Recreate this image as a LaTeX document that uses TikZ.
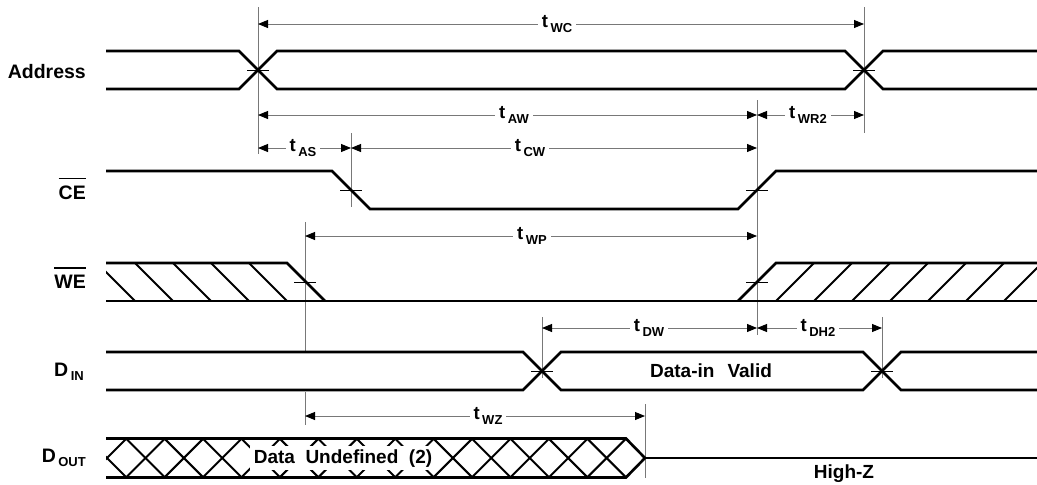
\documentclass[tikz,border=0pt]{standalone}
\usepackage{fontspec}
\setmainfont{Liberation Sans}
\usetikzlibrary{arrows.meta}
\definecolor{refgray}{RGB}{120,120,120}

% name with a lowered index, as D_IN or t_WC
\newcommand{\lowidx}[2]{#1\kern2.5pt\raisebox{-4.5pt}{\fontsize{13}{13}\selectfont #2}}
% active-low name with a bar over it
\newcommand{\barname}[1]{\setbox0\hbox{#1}\rlap{\rule[\dimexpr\ht0+6pt\relax]{\wd0}{1.1pt}}\box0}

\begin{document}
\begin{tikzpicture}[x=1pt,y=-1pt]
  \tikzset{sig/.style={line width=2.6pt,line join=miter},
    hatch/.style={line width=2pt},
    refline/.style={refgray,line width=0.9pt},
    crossmark/.style={line width=0.8pt},
    dimarrow/.style={refgray,line width=0.9pt,>={Triangle[length=10pt,width=8pt,black]},<->},
    tlab/.style={fill=white,inner xsep=4pt,inner ysep=1pt,font=\fontsize{18.5}{20}\selectfont\bfseries},
    siglab/.style={anchor=base east,inner sep=0pt,font=\fontsize{19.5}{21}\selectfont\bfseries},
    txt/.style={anchor=base,inner sep=0pt,font=\fontsize{19}{21}\selectfont\bfseries}}
  \useasboundingbox (0,0) rectangle (1037,485);

  % signal names
  \node[siglab] (addr) at (86,78) {Address};
  \node[siglab] (ce) at (86,199) {\barname{CE}};
  \node[siglab] (we) at (86,288) {\barname{WE}};
  \node[siglab] (din) at (84,376) {\lowidx{D}{IN}};
  \node[siglab] (dout) at (86,462) {\lowidx{D}{OUT}};

  % reference lines
  \draw[refline] (258,7) -- (258,154);
  \draw[refline] (864,7) -- (864,133);
  \draw[refline] (351,133) -- (351,207);
  \draw[refline] (757,100) -- (757,335);
  \draw[refline] (305,222) -- (305,352) (305,392) -- (305,425);
  \draw[refline] (542,317) -- (542,378);
  \draw[refline] (882,317) -- (882,378);
  \draw[refline] (645,404) -- (645,478);

  % Address
  \draw[sig] (106,51) -- (239,51) -- (277,89) -- (845,89) -- (883,51) -- (1037,51);
  \draw[sig] (106,89) -- (239,89) -- (277,51) -- (845,51) -- (883,89) -- (1037,89);
  % CE
  \draw[sig] (106,171) -- (332,171) -- (370,209) -- (738,209) -- (776,171) -- (1037,171);
  % WE
  \draw[sig] (106,263) -- (287,263) -- (325,301);
  \draw[sig] (106,301) -- (1037,301);
  \draw[sig] (738,301) -- (776,263) -- (1037,263);
  \begin{scope}
    \clip (106,250) rectangle (1037,320);
    \foreach \x in {97,135,...,249} \draw[hatch] (\x,263) -- ({\x+38},301);
    \foreach \x in {776,814,...,1004} \draw[hatch] (\x,301) -- ({\x+38},263);
  \end{scope}
  % DIN
  \draw[sig] (106,352) -- (523,352) -- (561,390) -- (863,390) -- (901,352) -- (1037,352);
  \draw[sig] (106,390) -- (523,390) -- (561,352) -- (863,352) -- (901,390) -- (1037,390);
  \node[txt] (valid) at (711,377) {Data-in\hspace{13pt}Valid};
  % DOUT
  \begin{scope}
    \clip (106,438.5) -- (626,438.5) -- (645,458) -- (626,477.5) -- (106,477.5) -- cycle;
    \foreach \k in {0,...,14} {
      \pgfmathsetmacro\xc{107+38.43*\k}
      \draw[hatch] ({\xc-19.5},438.5) -- ({\xc+19.5},477.5);
      \draw[hatch] ({\xc-19.5},477.5) -- ({\xc+19.5},438.5);
    }
  \end{scope}
  \draw[sig] (106,438.5) -- (626,438.5) -- (645,458) -- (626,477.5) -- (106,477.5);
  \draw[sig] (645,458) -- (1037,458);
  \node[txt,fill=white,inner xsep=4pt,inner ysep=3pt] (undef) at (343,463) {Data~~Undefined~~(2)};
  \node[txt] (hiz) at (844,478) {High-Z};

  % crossing marks
  \foreach \x/\y in {258/70,864/70,351/190,757/190,305/282,757/282,542/371,882/371}
    \draw[crossmark] ({\x-11},\y) -- ({\x+11},\y);

  % timing arrows
  \draw[dimarrow] (258,24) -- (864,24);
  \node[tlab] (twc) at (557,24) {\lowidx{t}{WC}};
  \draw[dimarrow] (258,115) -- (757,115);
  \node[tlab] (taw) at (514,115) {\lowidx{t}{AW}};
  \draw[dimarrow] (757,115) -- (864,115);
  \node[tlab] (twr) at (808,115) {\lowidx{t}{WR2}};
  \draw[dimarrow] (258,148) -- (351,148);
  \node[tlab] (tas) at (303,148) {\lowidx{t}{AS}};
  \draw[dimarrow] (351,148) -- (757,148);
  \node[tlab] (tcw) at (530,148) {\lowidx{t}{CW}};
  \draw[dimarrow] (305,236) -- (757,236);
  \node[tlab] (twp) at (532,236) {\lowidx{t}{WP}};
  \draw[dimarrow] (542,328) -- (757,328);
  \node[tlab] (tdw) at (649,328) {\lowidx{t}{DW}};
  \draw[dimarrow] (757,328) -- (882,328);
  \node[tlab] (tdh) at (818,328) {\lowidx{t}{DH2}};
  \draw[dimarrow] (305,416) -- (645,416);
  \node[tlab] (twz) at (488,416) {\lowidx{t}{WZ}};
\end{tikzpicture}
\end{document}
